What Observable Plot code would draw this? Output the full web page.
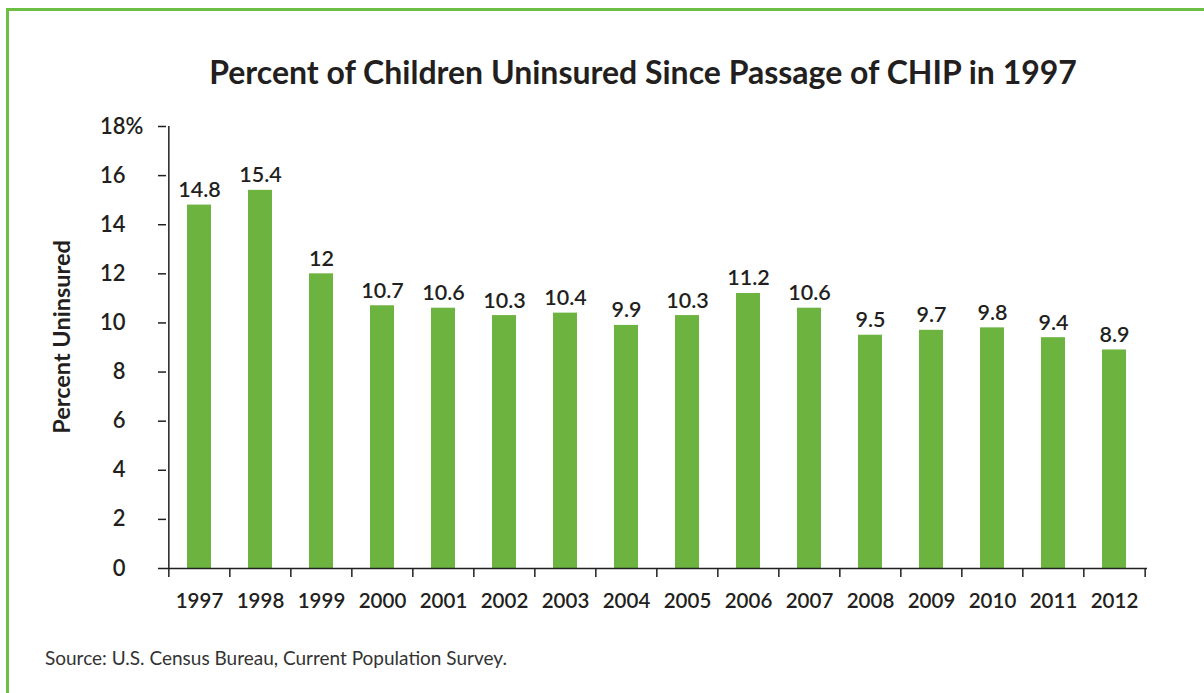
<!DOCTYPE html>
<html>
<head>
<meta charset="utf-8">
<script src="https://cdn.jsdelivr.net/npm/d3@7"></script>
<script src="https://cdn.jsdelivr.net/npm/@observablehq/plot@0.6"></script>
<style>
  html, body { margin: 0; padding: 0; background: #fff; }
  #page { position: relative; width: 1204px; height: 693px; overflow: hidden; font-family: Lato, "Open Sans", sans-serif; color: #231f20; }
  #border { position: absolute; left: 6px; top: 8px; width: 1400px; height: 900px; border-left: 3px solid #6cbe45; border-top: 3px solid #6cbe45; }
  #title { position: absolute; left: 0; width: 1286px; top: 53px; text-align: center; font-size: 32px; font-weight: 700; line-height: 1.2; white-space: nowrap; }
  #ylabel { position: absolute; left: 62px; top: 337px; transform: translate(-50%, -50%) rotate(-90deg); font-size: 23.5px; font-weight: 700; white-space: nowrap; line-height: 1; }
  #source { position: absolute; left: 45px; top: 647px; font-size: 19px; font-weight: 400; color: #333; line-height: 1.2; white-space: nowrap; }
  #chart { position: absolute; left: 0; top: 100px; }
</style>
</head>
<body>
<div id="page">
  <div id="border"></div>
  <div id="title">Percent of Children Uninsured Since Passage of CHIP in 1997</div>
  <div id="ylabel">Percent Uninsured</div>
  <div id="chart"></div>
  <div id="source">Source: U.S. Census Bureau, Current Population Survey.</div>
</div>
<script>
const years = [1997, 1998, 1999, 2000, 2001, 2002, 2003, 2004, 2005, 2006, 2007, 2008, 2009, 2010, 2011, 2012];
const values = [14.8, 15.4, 12, 10.7, 10.6, 10.3, 10.4, 9.9, 10.3, 11.2, 10.6, 9.5, 9.7, 9.8, 9.4, 8.9];
const yTicks = [0, 2, 4, 6, 8, 10, 12, 14, 16, 18];

const data = years.map((year, i) => ({year, value: values[i]}));

const width = 1204, height = 540;
const marginLeft = 166, marginRight = 57, marginTop = 26, marginBottom = 72;
const step = (width - marginLeft - marginRight) / years.length;
const frameH = height - marginTop - marginBottom;
const ink = "#231f20";
const font = "Lato, 'Open Sans', sans-serif";

const chart = Plot.plot({
  width, height, marginLeft, marginRight, marginTop, marginBottom,
  style: {fontFamily: font, color: ink, background: "transparent", overflow: "visible"},
  x: {type: "band", domain: years, paddingInner: 0.6, paddingOuter: 0.3, axis: null},
  y: {domain: [0, 18], axis: null},
  marks: [
    Plot.barY(data, {x: "year", y: "value", fill: "#6db33f"}),
    // y axis line
    Plot.ruleX([years[0]], {x: d => d, dx: -step / 2, stroke: ink, strokeWidth: 1.5}),
    // x axis line
    Plot.ruleY([0], {stroke: ink, strokeWidth: 1.5}),
    // boundary ticks on x axis
    Plot.ruleX(years, {x: d => d, dx: -step / 2, insetTop: frameH, insetBottom: -9, stroke: ink, strokeWidth: 1.5}),
    Plot.ruleX([years[years.length - 1]], {x: d => d, dx: step / 2, insetTop: frameH, insetBottom: -9, stroke: ink, strokeWidth: 1.5}),
    Plot.axisY({ticks: yTicks, tickSize: 8, tickPadding: 33, tickFormat: d => String(d), fontSize: 22, fontWeight: 600, stroke: ink, strokeWidth: 1.5, fill: ink, label: null}),
    Plot.text([18], {y: d => d, text: () => "%", frameAnchor: "left", textAnchor: "start", dx: -41, fontSize: 22, fontWeight: 600, fill: ink}),
    Plot.axisX({tickSize: 0, tickPadding: 25, tickFormat: d => String(d), fontSize: 20.5, fontWeight: 600, fill: ink, label: null}),
    Plot.text(data, {x: "year", y: "value", text: d => String(d.value), dy: -8, lineAnchor: "bottom", fontSize: 21.5, fontWeight: 600, fill: ink})
  ]
});
document.getElementById("chart").appendChild(chart);
</script>
</body>
</html>
